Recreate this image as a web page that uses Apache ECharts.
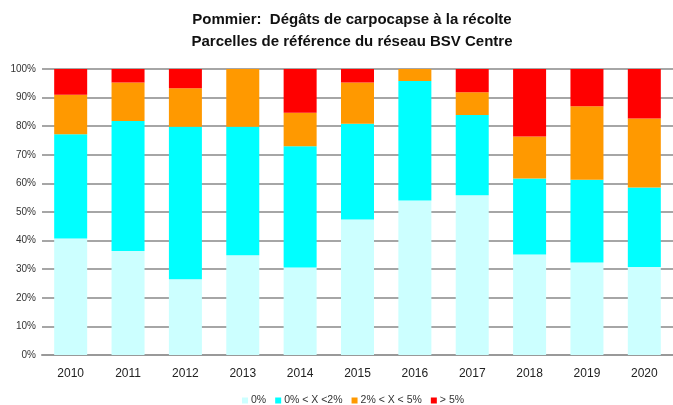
<!DOCTYPE html>
<html>
<head>
<meta charset="utf-8">
<script src="https://cdn.jsdelivr.net/npm/echarts@6/dist/echarts.min.js"></script>
<style>html,body{margin:0;padding:0;background:#fff;}#c{width:673px;height:405px;}</style>
</head>
<body>
<div id="c"></div>
<script>
var categories = ['2010','2011','2012','2013','2014','2015','2016','2017','2018','2019','2020'];
var seriesNames = ['0%', '0% < X <2%', '2% < X < 5%', '> 5%'];
var s0 = [40.7, 36.4, 26.5, 34.9, 30.6, 47.4, 54.0, 55.9, 35.1, 32.3, 30.8];
var s1 = [36.5, 45.4, 53.3, 44.9, 42.4, 33.5, 41.8, 28.0, 26.6, 29.0, 27.8];
var s2 = [13.8, 13.5, 13.5, 20.2, 11.7, 14.4, 4.2, 8.0, 14.7, 25.7, 24.1];
var s3 = [9.0, 4.7, 6.7, 0, 15.3, 4.7, 0, 8.1, 23.6, 13.0, 17.3];
var yTicks = [0,10,20,30,40,50,60,70,80,90,100];
var colors = ['#CCFFFF', '#00FFFF', '#FF9900', '#FF0000'];

var chart = echarts.init(document.getElementById('c'), null, {renderer: 'canvas'});
var dataSets = [s0, s1, s2, s3];
var series = dataSets.map(function (d, i) {
  return {
    name: seriesNames[i],
    type: 'bar',
    stack: 'total',
    barWidth: 33,
    data: d,
    itemStyle: {color: colors[i]},
    emphasis: {disabled: true}
  };
});
chart.setOption({
  animation: false,
  backgroundColor: '#fff',
  title: {
    text: 'Pommier:  Dégâts de carpocapse à la récolte\nParcelles de référence du réseau BSV Centre',
    left: 347,
    top: 4,
    textAlign: 'center',
    textStyle: {
      fontFamily: 'Liberation Sans, Arial, sans-serif',
      fontWeight: 'bold',
      fontSize: 15,
      lineHeight: 22,
      color: '#111'
    }
  },
  legend: {
    data: seriesNames,
    top: 390,
    left: 237,
    itemWidth: 6,
    itemHeight: 6,
    itemGap: 9,
    icon: 'rect',
    textStyle: {fontFamily: 'Liberation Sans, Arial, sans-serif', fontSize: 10.5, color: '#333', padding: [0, 0, 0, -2]}
  },
  grid: {left: 42, top: 69, width: 639, bottom: 50, containLabel: false},
  xAxis: {
    type: 'category',
    data: categories,
    axisTick: {show: false},
    axisLine: {lineStyle: {color: '#999', width: 2}},
    axisLabel: {fontFamily: 'Liberation Sans, Arial, sans-serif', fontSize: 12, color: '#222', margin: 13}
  },
  yAxis: {
    type: 'value',
    min: 0,
    max: 100,
    interval: 10,
    axisLine: {show: false},
    axisTick: {show: false},
    splitLine: {lineStyle: {color: '#A6A6A6', width: 2}},
    axisLabel: {
      fontFamily: 'Liberation Sans, Arial, sans-serif', fontSize: 10, color: '#333', margin: 6,
      formatter: function (v) { return yTicks.indexOf(v) >= 0 ? v + '%' : ''; }
    }
  },
  series: series
});
</script>
</body>
</html>
